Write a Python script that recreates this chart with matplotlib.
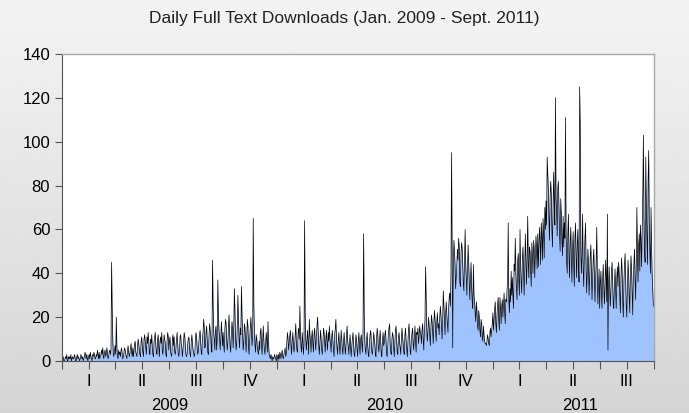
import numpy as np
import pandas as pd
import matplotlib
matplotlib.use("Agg")
import matplotlib.pyplot as plt
import matplotlib.dates as mdates

plt.rcParams['font.family'] = ['Liberation Sans', 'DejaVu Sans']

# daily full text downloads, one list per quarter (one line per month)
q2009_1 = [0, 1, 2, 0, 0, 1, 2, 1, 3, 0, 0, 2, 1, 2, 1, 3, 0, 1, 2, 1, 1, 3, 2, 0, 0, 2, 3, 1, 2, 1, 0,
           1, 3, 2, 1, 2, 0, 1, 2, 4, 3, 1, 3, 1, 0, 2, 3, 1, 4, 2, 1, 0, 3, 2, 4, 3, 1, 1, 3,
           2, 5, 3, 1, 4, 1, 2, 3, 5, 3, 6, 2, 1, 4, 5, 2, 3, 6, 4, 1, 2, 4, 5, 3, 5, 45, 25, 10, 3, 2, 5]
q2009_2 = [7, 3, 20, 6, 2, 1, 5, 3, 4, 2, 5, 6, 3, 1, 2, 4, 6, 5, 3, 2, 1, 5, 7, 4, 2, 3, 6, 8, 4, 2,
           6, 2, 5, 8, 9, 4, 3, 2, 7, 10, 8, 5, 3, 2, 9, 11, 7, 4, 2, 10, 12, 9, 6, 3, 11, 8, 13, 9, 4, 3, 10,
           8, 12, 6, 3, 2, 9, 11, 13, 7, 4, 3, 10, 12, 6, 2, 9, 11, 8, 13, 4, 3, 7, 12, 10, 8, 3, 2, 9, 13, 11]
q2009_3 = [5, 9, 11, 4, 3, 2, 10, 12, 7, 11, 4, 3, 6, 10, 13, 8, 3, 2, 4, 11, 12, 8, 6, 2, 5, 9, 13, 11, 7, 3, 2,
           3, 8, 10, 11, 6, 3, 2, 9, 12, 8, 5, 4, 2, 3, 10, 13, 11, 6, 3, 4, 9, 12, 14, 8, 4, 3, 11, 13, 19, 15, 6,
           7, 13, 16, 10, 4, 3, 11, 17, 14, 12, 6, 4, 46, 26, 13, 10, 5, 14, 16, 5, 9, 37, 21, 14, 11, 5, 10, 18, 13, 7]
q2009_4 = [13, 7, 4, 15, 19, 17, 10, 5, 8, 16, 21, 12, 6, 4, 13, 18, 14, 6, 16, 33, 23, 11, 5, 8, 16, 30, 19, 10, 6, 15, 12,
           34, 21, 12, 5, 8, 17, 15, 9, 4, 12, 19, 16, 6, 3, 10, 15, 20, 13, 7, 11, 65, 25, 14, 7, 4, 12, 10, 6, 4, 3,
           9, 5, 13, 15, 8, 3, 10, 16, 9, 5, 3, 8, 13, 9, 4, 18, 8, 3, 2, 1, 3, 2, 0, 2, 1, 1, 3, 2, 1, 0, 3]
q2010_1 = [2, 0, 3, 1, 4, 3, 1, 3, 5, 2, 1, 3, 4, 6, 2, 3, 9, 13, 10, 5, 8, 12, 14, 7, 3, 9, 13, 8, 4, 6, 12,
           17, 9, 5, 4, 13, 15, 10, 25, 12, 6, 4, 13, 9, 3, 7, 64, 21, 10, 5, 9, 14, 8, 3, 19, 12, 9, 4, 11,
           14, 8, 4, 12, 15, 9, 5, 11, 16, 20, 13, 7, 3, 9, 14, 10, 5, 3, 8, 15, 13, 9, 4, 10, 14, 8, 5, 13, 9, 16, 10]
q2010_2 = [8, 4, 11, 14, 9, 5, 2, 12, 15, 19, 10, 6, 3, 9, 13, 7, 3, 8, 14, 10, 5, 3, 9, 13, 8, 3, 6, 12, 16, 9,
           7, 3, 8, 12, 6, 2, 7, 10, 13, 8, 3, 2, 7, 12, 10, 5, 2, 9, 13, 7, 3, 10, 12, 8, 4, 13, 58, 22, 9, 5, 3,
           10, 13, 7, 3, 2, 9, 12, 14, 9, 4, 3, 7, 13, 10, 8, 3, 2, 11, 15, 12, 6, 4, 10, 14, 8, 3, 2, 10, 13, 7]
q2010_3 = [8, 12, 14, 9, 3, 2, 7, 13, 15, 17, 8, 4, 3, 10, 13, 11, 6, 2, 9, 14, 16, 9, 4, 3, 11, 13, 8, 6, 3, 10, 15,
           11, 8, 4, 3, 12, 15, 9, 6, 2, 8, 14, 17, 10, 4, 3, 10, 13, 15, 8, 5, 11, 16, 9, 4, 13, 12, 15, 8, 11, 16, 13,
           12, 8, 14, 17, 10, 5, 13, 19, 43, 28, 14, 9, 13, 20, 16, 12, 7, 15, 21, 18, 13, 8, 17, 23, 19, 14, 9, 18, 22, 15]
q2010_4 = [17, 12, 20, 25, 21, 15, 10, 19, 32, 25, 17, 12, 22, 27, 21, 17, 13, 24, 29, 31, 25, 40, 95, 48, 6, 42, 55, 50, 43, 33, 38,
           44, 51, 46, 56, 52, 36, 34, 49, 54, 51, 44, 35, 32, 47, 60, 44, 38, 30, 42, 53, 45, 36, 28, 37, 45, 34, 27, 24, 44, 30,
           27, 22, 18, 27, 23, 16, 14, 23, 20, 14, 11, 19, 17, 11, 9, 16, 12, 9, 8, 8, 7, 9, 12, 10, 8, 7, 13, 15, 11, 14, 17]
q2011_1 = [22, 14, 18, 24, 27, 17, 13, 21, 26, 29, 18, 14, 29, 24, 17, 25, 28, 20, 26, 31, 22, 17, 28, 27, 32, 37, 63, 28, 22, 33, 27,
           41, 30, 38, 30, 24, 44, 41, 56, 40, 33, 28, 46, 49, 36, 30, 60, 43, 36, 31, 47, 52, 42, 30, 42, 58, 46, 35, 45,
           66, 45, 38, 52, 50, 41, 34, 54, 48, 40, 55, 51, 38, 47, 57, 51, 42, 58, 43, 53, 61, 54, 44, 63, 57, 46, 65, 58, 47, 70, 60]
q2011_2 = [73, 62, 93, 85, 78, 65, 55, 75, 82, 76, 60, 52, 71, 86, 72, 62, 120, 75, 68, 57, 79, 82, 70, 58, 50, 74, 67, 55, 48, 66,
           52, 63, 56, 111, 60, 45, 40, 58, 67, 48, 38, 54, 61, 46, 36, 52, 59, 44, 34, 56, 63, 48, 38, 53, 60, 45, 36, 125, 108, 50, 40,
           48, 67, 42, 34, 47, 56, 63, 42, 31, 40, 51, 45, 30, 38, 48, 53, 40, 28, 38, 46, 51, 38, 27, 37, 45, 61, 38, 26, 35, 42]
q2011_3 = [24, 35, 41, 30, 24, 38, 44, 35, 26, 33, 46, 38, 27, 67, 5, 35, 43, 33, 25, 32, 41, 45, 36, 26, 24, 36, 42, 32, 24, 38, 43,
           34, 45, 40, 30, 22, 38, 47, 41, 27, 20, 36, 44, 49, 36, 25, 20, 33, 46, 40, 29, 22, 39, 48, 42, 32, 21, 37, 45, 51, 37, 28,
           44, 70, 47, 36, 53, 58, 41, 62, 55, 43, 60, 76, 103, 66, 50, 45, 93, 72, 56, 44, 82, 96, 63, 50, 40, 70, 50, 38, 32, 25]

quarters = [q2009_1, q2009_2, q2009_3, q2009_4, q2010_1, q2010_2, q2010_3, q2010_4,
            q2011_1, q2011_2, q2011_3]
quarter_names = ["I", "II", "III", "IV"] * 2 + ["I", "II", "III"]
years = ["2009", "2010", "2011"]
year_label_dates = ["2009-07-02", "2010-07-02", "2011-05-28"]

q_starts = pd.date_range("2009-01-01", "2011-10-01", freq="QS")
for i, q in enumerate(quarters):
    n = (q_starts[i + 1] - q_starts[i]).days
    assert len(q) == n, (i, len(q), n)

dates = pd.date_range("2009-01-01", "2011-09-30", freq="D")
values = np.concatenate(quarters)

fig = plt.figure(figsize=(6.89, 4.13), dpi=100)

# grey gradient background
bg = fig.add_axes([0, 0, 1, 1], zorder=-10)
grad = np.linspace(0.955, 0.835, 256).reshape(-1, 1)
bg.imshow(grad, aspect="auto", cmap="gray", vmin=0, vmax=1, extent=[0, 1, 0, 1])
bg.axis("off")

ax = fig.add_axes([62 / 689, 1 - 361 / 413, 592 / 689, 307 / 413])
ax.set_facecolor("white")
x = mdates.date2num(dates)
ax.fill_between(x, values, 0, color="#9ec3ff", lw=0)
ax.plot(x, values, color="black", lw=0.5)

ax.set_xlim(x[0], x[-1] + 1)
ax.set_ylim(0, 140)
ax.set_yticks(np.arange(0, 141, 20))

qs = mdates.date2num(q_starts)
mids = (qs[:-1] + qs[1:]) / 2
ax.set_xticks(list(qs) + list(mids))
ax.set_xticklabels([])
for m, name in zip(mids, quarter_names):
    ax.text(m, -0.068, name, transform=ax.get_xaxis_transform(),
            ha="center", va="center", fontsize=12)
for d, yr in zip(year_label_dates, years):
    ax.text(mdates.date2num(pd.Timestamp(d)), -0.145, yr, transform=ax.get_xaxis_transform(),
            ha="center", va="center", fontsize=12)

ax.tick_params(axis="both", direction="out", length=5, width=0.8, color="#555555",
               labelsize=12, labelcolor="black")
ax.tick_params(axis="x", length=6)
for side in ["left", "bottom"]:
    ax.spines[side].set_color("#555555")
    ax.spines[side].set_linewidth(0.8)
for side in ["top", "right"]:
    ax.spines[side].set_color("#a8a8a8")
    ax.spines[side].set_linewidth(1.0)

fig.text(0.5, 1 - 18 / 413, "Daily Full Text Downloads (Jan. 2009 - Sept. 2011)",
         ha="center", va="center", fontsize=12.5, color="#222222")

fig.savefig("out.png", dpi=100)
